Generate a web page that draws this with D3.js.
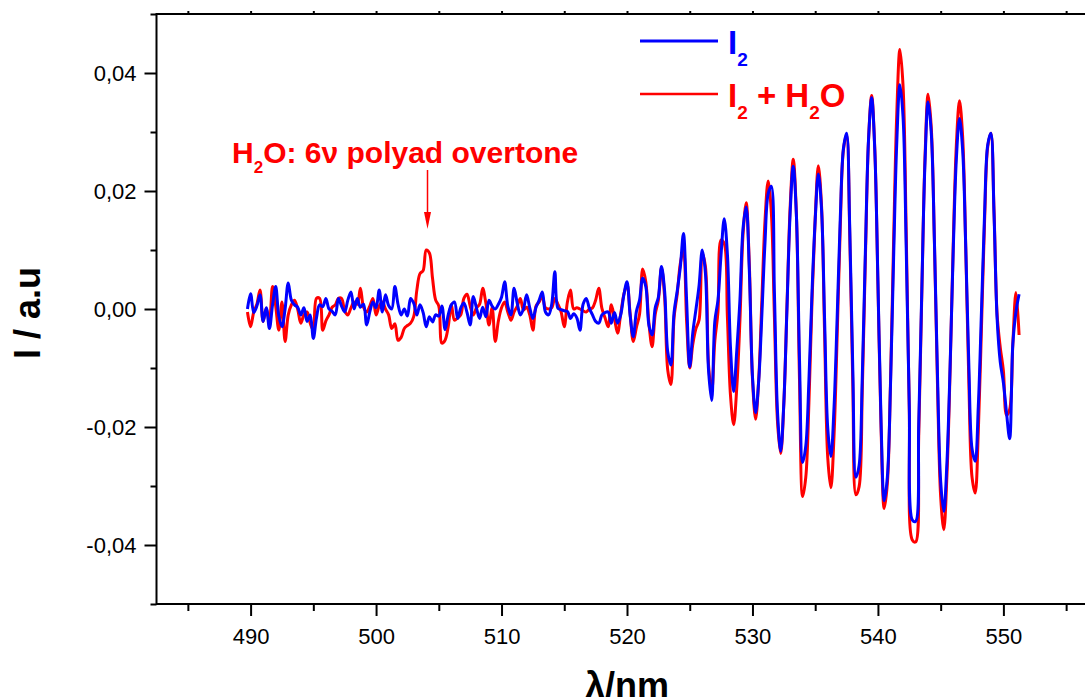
<!DOCTYPE html>
<html>
<head>
<meta charset="utf-8">
<script src="https://cdn.jsdelivr.net/npm/d3@7"></script>
<style>
  html, body { margin: 0; padding: 0; background: #fff; }
  svg { display: block; }
</style>
</head>
<body>
<svg id="chart" width="1085" height="697"></svg>
<script>
// Sampling grid of the spectra (nm)
const wavelengthStart = 489.75;
const wavelengthStep = 0.25;

// Difference signal of pure iodine, in units of 1e-3 a.u. (one row per nm)
const i2Milli = [
  0.0,
  2.6, -0.6, 0.5, 2.4,        // 490
  -2.1, 0.2, -3.3, 0.7,       // 491
  3.8, -1.2, -3.0, 0.0,       // 492
  4.4, 1.5, 0.7, 0.3,         // 493
  -1.0, 0.2, -2.1, -1.0,      // 494
  -5.0, -1.5, 0.7, 0.4,       // 495
  1.8, 0.0, -0.4, -1.0,       // 496
  1.8, 0.5, -0.5, 1.5,        // 497
  2.9, 0.0, 1.8, 0.3,         // 498
  0.8, -2.7, -0.5, 1.2,       // 499
  0.2, 3.2, -0.5, 2.4,        // 500
  0.6, 0.0, 3.8, 0.8,         // 501
  -1.0, 0.0, -1.2, 1.8,       // 502
  1.0, -1.0, 0.7, -0.6,       // 503
  -3.0, -1.3, -2.2, -1.0,     // 504
  -1.2, 0.5, -3.5, -1.0,      // 505
  0.7, 1.2, -1.6, 0.2,        // 506
  1.0, -0.6, -2.7, 2.1,       // 507
  0.2, -1.6, 0.3, -1.3,       // 508
  1.5, 0.5, 0.0, 0.8,         // 509
  2.0, 4.6, 0.5, -1.0,        // 510
  3.5, 1.0, -1.0, 0.0,        // 511
  2.4, 0.2, -1.6, 0.3,        // 512
  1.5, 2.9, -0.5, -1.0,       // 513
  0.8, 6.3, 0.1, -0.1,        // 514
  -0.3, -0.4, -1.6, -0.8,     // 515
  -1.5, -3.6, 0.8, 1.8,       // 516
  0.1, -1.0, -2.1, -2.4,      // 517
  -1.0, -0.6, -0.5, -2.4,     // 518
  -0.6, -2.4, -1.0, 2.4,      // 519
  4.6, -1.1, -4.7, -0.4,      // 520
  1.5, 5.2, 3.8, -2.8,        // 521
  -4.4, 0.2, 2.0, 7.2,        // 522
  3.0, -7.3, -9.5, -0.6,      // 523
  3.0, 7.1, 12.8, 1.5,        // 524
  -9.8, -3.9, 0.0, 4.1,       // 525
  10.0, 6.1, -10.4, -15.5,    // 526
  -2.1, 1.5, 9.3, 15.3,       // 527
  9.4, -6.6, -14.0, -7.0,     // 528
  1.5, 13.7, 17.3, 6.5,       // 529
  -11.4, -17.6, -12.1, -0.9,  // 530
  11.3, 19.5, 20.8, 2.7,      // 531
  -17.6, -24.1, -15.9, 0.1,   // 532
  16.1, 24.2, 16.0, -8.7,     // 533
  -26.0, -23.2, -12.1, 3.1,   // 534
  15.1, 22.9, 17.1, -1.9,     // 535
  -20.2, -25.0, -16.7, -1.4,  // 536
  15.5, 27.2, 29.8, 14.0,     // 537
  -10.6, -28.5, -26.5, -11.7, // 538
  9.8, 28.7, 35.8, 26.9,      // 539
  4.7, -19.2, -32.5, -28.5,   // 540
  -13.1, 8.7, 28.1, 38.0,     // 541
  32.6, 10.8, -16.6, -35.8,   // 542
  -36.0, -19.6, 3.5, 24.8,    // 543
  35.1, 29.9, 11.7, -11.5,    // 544
  -29.2, -34.3, -26.0, -9.9,  // 545
  9.8, 25.4, 32.3, 27.0,      // 546
  10.4, -9.9, -23.7, -25.8,   // 547
  -16.5, -0.5, 16.2, 27.8,    // 548
  29.8, 16.3, -1.7, -9.0,     // 549
  -12.5, -17.6, -22.0, -6.0,  // 550
  -0.5, 2.5                   // 551
];

// Difference signal of iodine with water vapour, in units of 1e-3 a.u.
const i2WaterMilli = [
  -0.5,
  -3.0, -0.5, 0.8, 3.2,       // 490
  -2.1, 0.1, -2.0, 3.8,       // 491
  0.5, -3.6, 1.2, -5.5,       // 492
  -1.0, 0.7, 1.5, 0.0,        // 493
  -2.4, -1.0, -0.5, -2.4,     // 494
  -3.6, 1.8, 1.8, -3.6,       // 495
  -2.0, -1.0, 0.3, 0.7,       // 496
  1.8, 1.8, -0.3, -1.0,       // 497
  0.2, 1.2, 0.8, 3.5,         // 498
  0.3, -0.5, 0.5, 1.8,        // 499
  -1.0, 0.5, 1.2, 0.0,        // 500
  -1.0, -3.3, -2.5, -5.3,     // 501
  -4.8, -3.3, -2.8, -2.4,     // 502
  -1.3, 3.2, 6.0, 6.5,        // 503
  10.0, 9.5, 5.2, 1.5,        // 504
  0.5, -5.8, -5.3, -3.0,      // 505
  0.7, -1.9, -1.5, -1.0,      // 506
  1.8, 2.5, 0.5, -1.0,        // 507
  0.2, 0.8, 3.5, 1.0,         // 508
  -2.7, 0.2, -5.5, -2.0,      // 509
  0.2, 1.2, -0.5, -1.9,       // 510
  -0.5, 0.5, 1.8, -0.2,       // 511
  0.3, -1.0, -3.6, 0.5,       // 512
  1.2, 2.1, 0.2, 0.0,         // 513
  0.2, 1.8, 0.8, -0.5,        // 514
  -3.0, 1.2, 3.2, 0.0,        // 515
  0.2, 0.0, -0.3, -0.5,       // 516
  0.0, 0.2, 1.5, 3.5,         // 517
  0.1, -1.5, -3.0, 0.7,       // 518
  -1.6, -4.1, -0.8, 2.5,      // 519
  4.2, -0.8, -5.5, -3.1,      // 520
  -0.9, 6.8, 4.6, -2.5,       // 521
  -6.4, -0.9, 1.5, 7.0,       // 522
  2.0, -10.4, -12.8, -1.5,    // 523
  2.5, 7.7, 10.0, -2.0,       // 524
  -10.0, -5.9, -3.3, -1.8,    // 525
  9.4, 7.2, -9.5, -14.0,      // 526
  -5.4, -0.5, 11.7, 11.1,     // 527
  -1.2, -14.7, -19.6, -13.3,  // 528
  -2.0, 12.7, 18.0, 7.5,      // 529
  -11.8, -18.7, -11.9, 1.6,   // 530
  15.0, 21.7, 16.5, -1.4,     // 531
  -19.3, -24.5, -16.1, 0.5,   // 532
  17.1, 25.4, 16.1, -12.1,    // 533
  -31.8, -28.5, -15.9, 1.6,   // 534
  15.4, 24.3, 17.7, -4.2,     // 535
  -25.2, -30.3, -21.5, -4.6,  // 536
  14.0, 27.0, 29.5, 13.0,     // 537
  -13.1, -31.5, -30.1, -14.2, // 538
  8.6, 28.6, 36.2, 27.1,      // 539
  4.2, -20.3, -33.8, -29.6,   // 540
  -12.6, 11.6, 33.0, 44.0,    // 541
  37.9, 13.5, -17.2, -39.2,   // 542
  -39.5, -21.6, 2.9, 25.5,    // 543
  36.4, 30.8, 11.6, -13.1,    // 544
  -31.8, -37.4, -28.2, -10.6, // 545
  10.8, 27.8, 35.3, 29.3,     // 546
  10.3, -12.8, -28.5, -31.2,  // 547
  -20.8, -3.3, 14.9, 27.5,    // 548
  29.8, 16.8, -1.0, -6.5,     // 549
  -10.5, -18.0, -17.0, -6.0,  // 550
  2.8, -4.4                   // 551
];

// Axis ticks
const xTickValues = [490, 500, 510, 520, 530, 540, 550];
const xMinorTickValues = [485, 495, 505, 515, 525, 535, 545, 555];
const yTickValues = [-0.04, -0.02, 0, 0.02, 0.04];
const yTickLabels = ["-0,04", "-0,02", "0,00", "0,02", "0,04"];
const yMinorTickValues = [-0.05, -0.03, -0.01, 0.01, 0.03, 0.05];

// Annotated water band position (nm)
const waterBandCenter = 504.1;

const font = "'Liberation Sans', Arial, Helvetica, sans-serif";
const blue = "#0000ff";
const red = "#ff0000";

const svg = d3.select("#chart");

const x = d3.scaleLinear().domain([482.5, 557.5]).range([156.5, 1097.5]);
const y = d3.scaleLinear().domain([-0.05, 0.05]).range([604, 14]);

function styleAxis(g) {
  g.select(".domain").remove();
  g.selectAll(".tick line").attr("stroke", "#000").attr("stroke-width", 2);
  g.selectAll(".tick text")
    .attr("font-family", font)
    .attr("font-size", 22)
    .attr("fill", "#000");
}

// Bottom axis: minor then labelled major ticks
svg.append("g")
  .attr("transform", `translate(0,${y(-0.05)})`)
  .call(d3.axisBottom(x).tickValues(xMinorTickValues).tickSize(7).tickFormat(""))
  .call(styleAxis);
svg.append("g")
  .attr("transform", `translate(0,${y(-0.05)})`)
  .call(d3.axisBottom(x).tickValues(xTickValues).tickSize(12).tickPadding(12).tickFormat(d3.format("d")))
  .call(styleAxis);

// Top axis: short outward ticks only
svg.append("g")
  .attr("transform", `translate(0,${y(0.05)})`)
  .call(d3.axisTop(x).tickValues(xTickValues.concat(xMinorTickValues)).tickSize(3).tickFormat(""))
  .call(styleAxis);

// Left axis
svg.append("g")
  .attr("transform", `translate(${x(482.5)},0)`)
  .call(d3.axisLeft(y).tickValues(yMinorTickValues).tickSize(6).tickFormat(""))
  .call(styleAxis);
svg.append("g")
  .attr("transform", `translate(${x(482.5)},0)`)
  .call(d3.axisLeft(y).tickValues(yTickValues).tickSize(12).tickPadding(8)
    .tickFormat((d, i) => yTickLabels[i]))
  .call(styleAxis);

// Frame
const [x0, x1] = x.range();
const [yb, yt] = y.range();
svg.append("path")
  .attr("d", `M${x1},${yt}H${x0}V${yb}H${x1}`)
  .attr("fill", "none")
  .attr("stroke", "#000")
  .attr("stroke-width", 2);

// Spectra
const toPoints = arr => arr.map((v, i) => ({ lambda: wavelengthStart + i * wavelengthStep, value: v / 1000 }));
const line = d3.line()
  .x(d => x(d.lambda))
  .y(d => y(d.value))
  .curve(d3.curveCatmullRom.alpha(0.5));

svg.append("path")
  .datum(toPoints(i2WaterMilli))
  .attr("d", line)
  .attr("fill", "none")
  .attr("stroke", red)
  .attr("stroke-width", 3)
  .attr("stroke-linejoin", "round");

svg.append("path")
  .datum(toPoints(i2Milli))
  .attr("d", line)
  .attr("fill", "none")
  .attr("stroke", blue)
  .attr("stroke-width", 3)
  .attr("stroke-linejoin", "round");

// Axis titles
svg.append("text")
  .attr("x", 627)
  .attr("y", 698)
  .attr("text-anchor", "middle")
  .attr("font-family", font)
  .attr("font-weight", "bold")
  .attr("font-size", 36)
  .attr("fill", "#000")
  .text("λ/nm");

svg.append("text")
  .attr("transform", "translate(40,313) rotate(-90)")
  .attr("text-anchor", "middle")
  .attr("font-family", font)
  .attr("font-weight", "bold")
  .attr("font-size", 36)
  .attr("fill", "#000")
  .text("I / a.u");

// Subscript helper: pieces of [text, isSubscript]
function richText(sel, pieces, subSize, subShift) {
  pieces.forEach(([t, sub], k) => {
    const prevSub = k > 0 && pieces[k - 1][1];
    const ts = sel.append("tspan").text(t);
    if (sub) ts.attr("font-size", subSize).attr("dy", subShift);
    else if (prevSub) ts.attr("dy", -subShift);
  });
}

// Annotation of the water overtone band
const annot = svg.append("text")
  .attr("x", 232)
  .attr("y", 163)
  .attr("font-family", font)
  .attr("font-weight", "bold")
  .attr("font-size", 30)
  .attr("fill", red);
richText(annot, [["H", false], ["2", true], ["O: 6ν polyad overtone", false]], 17, 10);

svg.append("line")
  .attr("x1", x(waterBandCenter)).attr("x2", x(waterBandCenter))
  .attr("y1", 170).attr("y2", 212)
  .attr("stroke", red)
  .attr("stroke-width", 1.5);
svg.append("path")
  .attr("d", `M${x(waterBandCenter) - 3.5},212L${x(waterBandCenter)},229L${x(waterBandCenter) + 3.5},212Z`)
  .attr("fill", red);

// Legend
const legend = [
  { color: blue, pieces: [["I", false], ["2", true]], y: 41, width: 3 },
  { color: red, pieces: [["I", false], ["2", true], [" + H", false], ["2", true], ["O", false]], y: 94, width: 2.5 }
];
legend.forEach(item => {
  svg.append("line")
    .attr("x1", 640).attr("x2", 718)
    .attr("y1", item.y).attr("y2", item.y)
    .attr("stroke", item.color)
    .attr("stroke-width", item.width);
  const t = svg.append("text")
    .attr("x", 728)
    .attr("y", item.y + 12.5)
    .attr("font-family", font)
    .attr("font-weight", "bold")
    .attr("font-size", 33)
    .attr("fill", item.color);
  richText(t, item.pieces, 19, 12);
});
</script>
</body>
</html>
